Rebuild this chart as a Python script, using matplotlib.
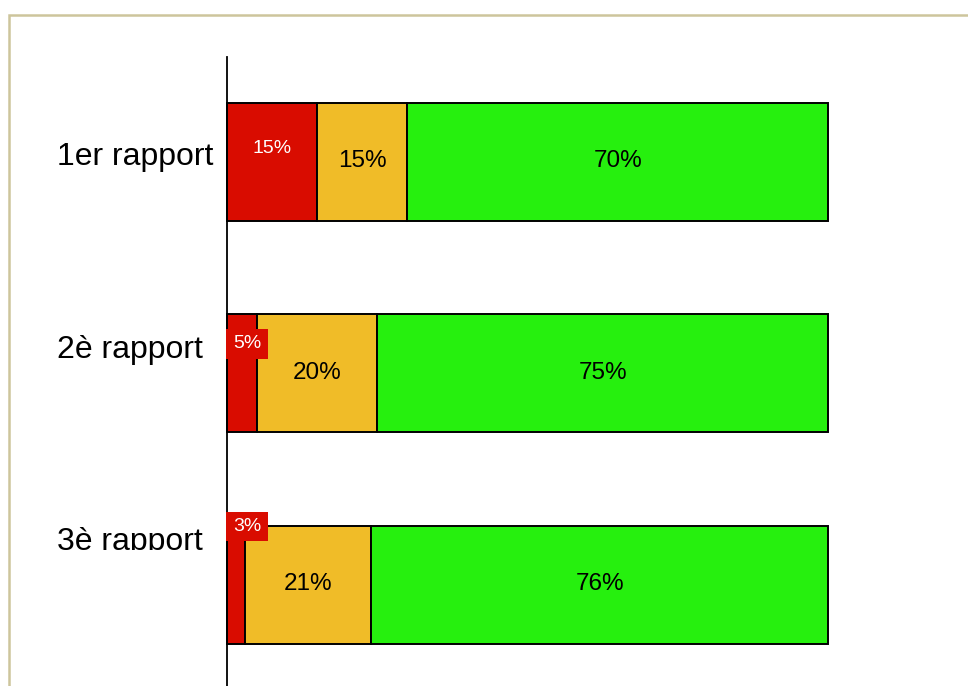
import numpy as np
import matplotlib
matplotlib.use('Agg')
import matplotlib.pyplot as plt
from matplotlib.patches import Rectangle
from matplotlib.transforms import Bbox, TransformedBbox

plt.rcParams['font.family'] = ['Liberation Sans', 'DejaVu Sans']

# data
categories = ['1er rapport', '2è rapport', '3è rapport']
red_vals = [15, 5, 3]
yellow_vals = [15, 20, 21]
green_vals = [70, 75, 76]

RED = '#d90c00'
YELLOW = '#f0bc28'
GREEN = '#26f00e'
BORDER = '#cdc59c'

W, H = 968, 686
fig = plt.figure(figsize=(W / 100, H / 100), dpi=100)

# outer frame (left/top visible only)
fig.patches.append(Rectangle((9 / W, -0.2), 1.2, (H - 15) / H + 0.2,
                             transform=fig.transFigure, fill=False,
                             edgecolor=BORDER, linewidth=1.8, zorder=0))

ax = fig.add_axes([227 / W, 0, (828 - 227) / W, 1 - 57 / H])
ax.set_xlim(0, 100)
ax.set_ylim(2.48, -0.497)
for s in ['top', 'right', 'bottom']:
    ax.spines[s].set_visible(False)
ax.spines['left'].set_linewidth(1.3)
ax.set_xticks([])
ax.set_yticks([])

y = np.arange(len(categories))
h = 0.558
red = np.array(red_vals)
yel = np.array(yellow_vals)
grn = np.array(green_vals)
kw = dict(height=h, edgecolor='black', linewidth=1.4, zorder=2)
ax.barh(y, red, left=0, color=RED, clip_on=False, **kw)
ax.barh(y, yel, left=red, color=YELLOW, clip_on=False, **kw)
ax.barh(y, grn, left=red + yel, color=GREEN, clip_on=False, **kw)

# labels on yellow and green segments
for i in range(len(categories)):
    ax.text(red[i] + yel[i] / 2, y[i] - 0.003, f'{yel[i]}%', ha='center', va='center',
            fontsize=17.5, color='black', zorder=3)
    ax.text(red[i] + yel[i] + grn[i] / 2, y[i] - 0.003, f'{grn[i]}%', ha='center',
            va='center', fontsize=17.5, color='black', zorder=3)

# red segment labels (white on red box, shifted up)
red_offsets = [0.062, 0.14, 0.275]
for i in range(len(categories)):
    xc = max(red[i] / 2, 3.33)
    ax.text(xc, y[i] - red_offsets[i], f'{red[i]}%', ha='center', va='center',
            fontsize=14, color='white', zorder=4, clip_on=False,
            bbox=dict(boxstyle='square,pad=0.33', facecolor=RED, edgecolor='none'))

# category labels (clipped at the bottom like the original)
clip = TransformedBbox(Bbox([[0, 1 - 550 / H], [1, 1]]), fig.transFigure)
label_offsets = [0.023, 0.111, 0.201]
for i, cat in enumerate(categories):
    t = ax.text(-2.3 if i == 0 else -4.0, y[i] - label_offsets[i], cat,
                ha='right', va='center', fontsize=23, color='black')
    t.set_clip_on(True)
    t.set_clip_box(clip)

fig.savefig('out.png', dpi=100)
